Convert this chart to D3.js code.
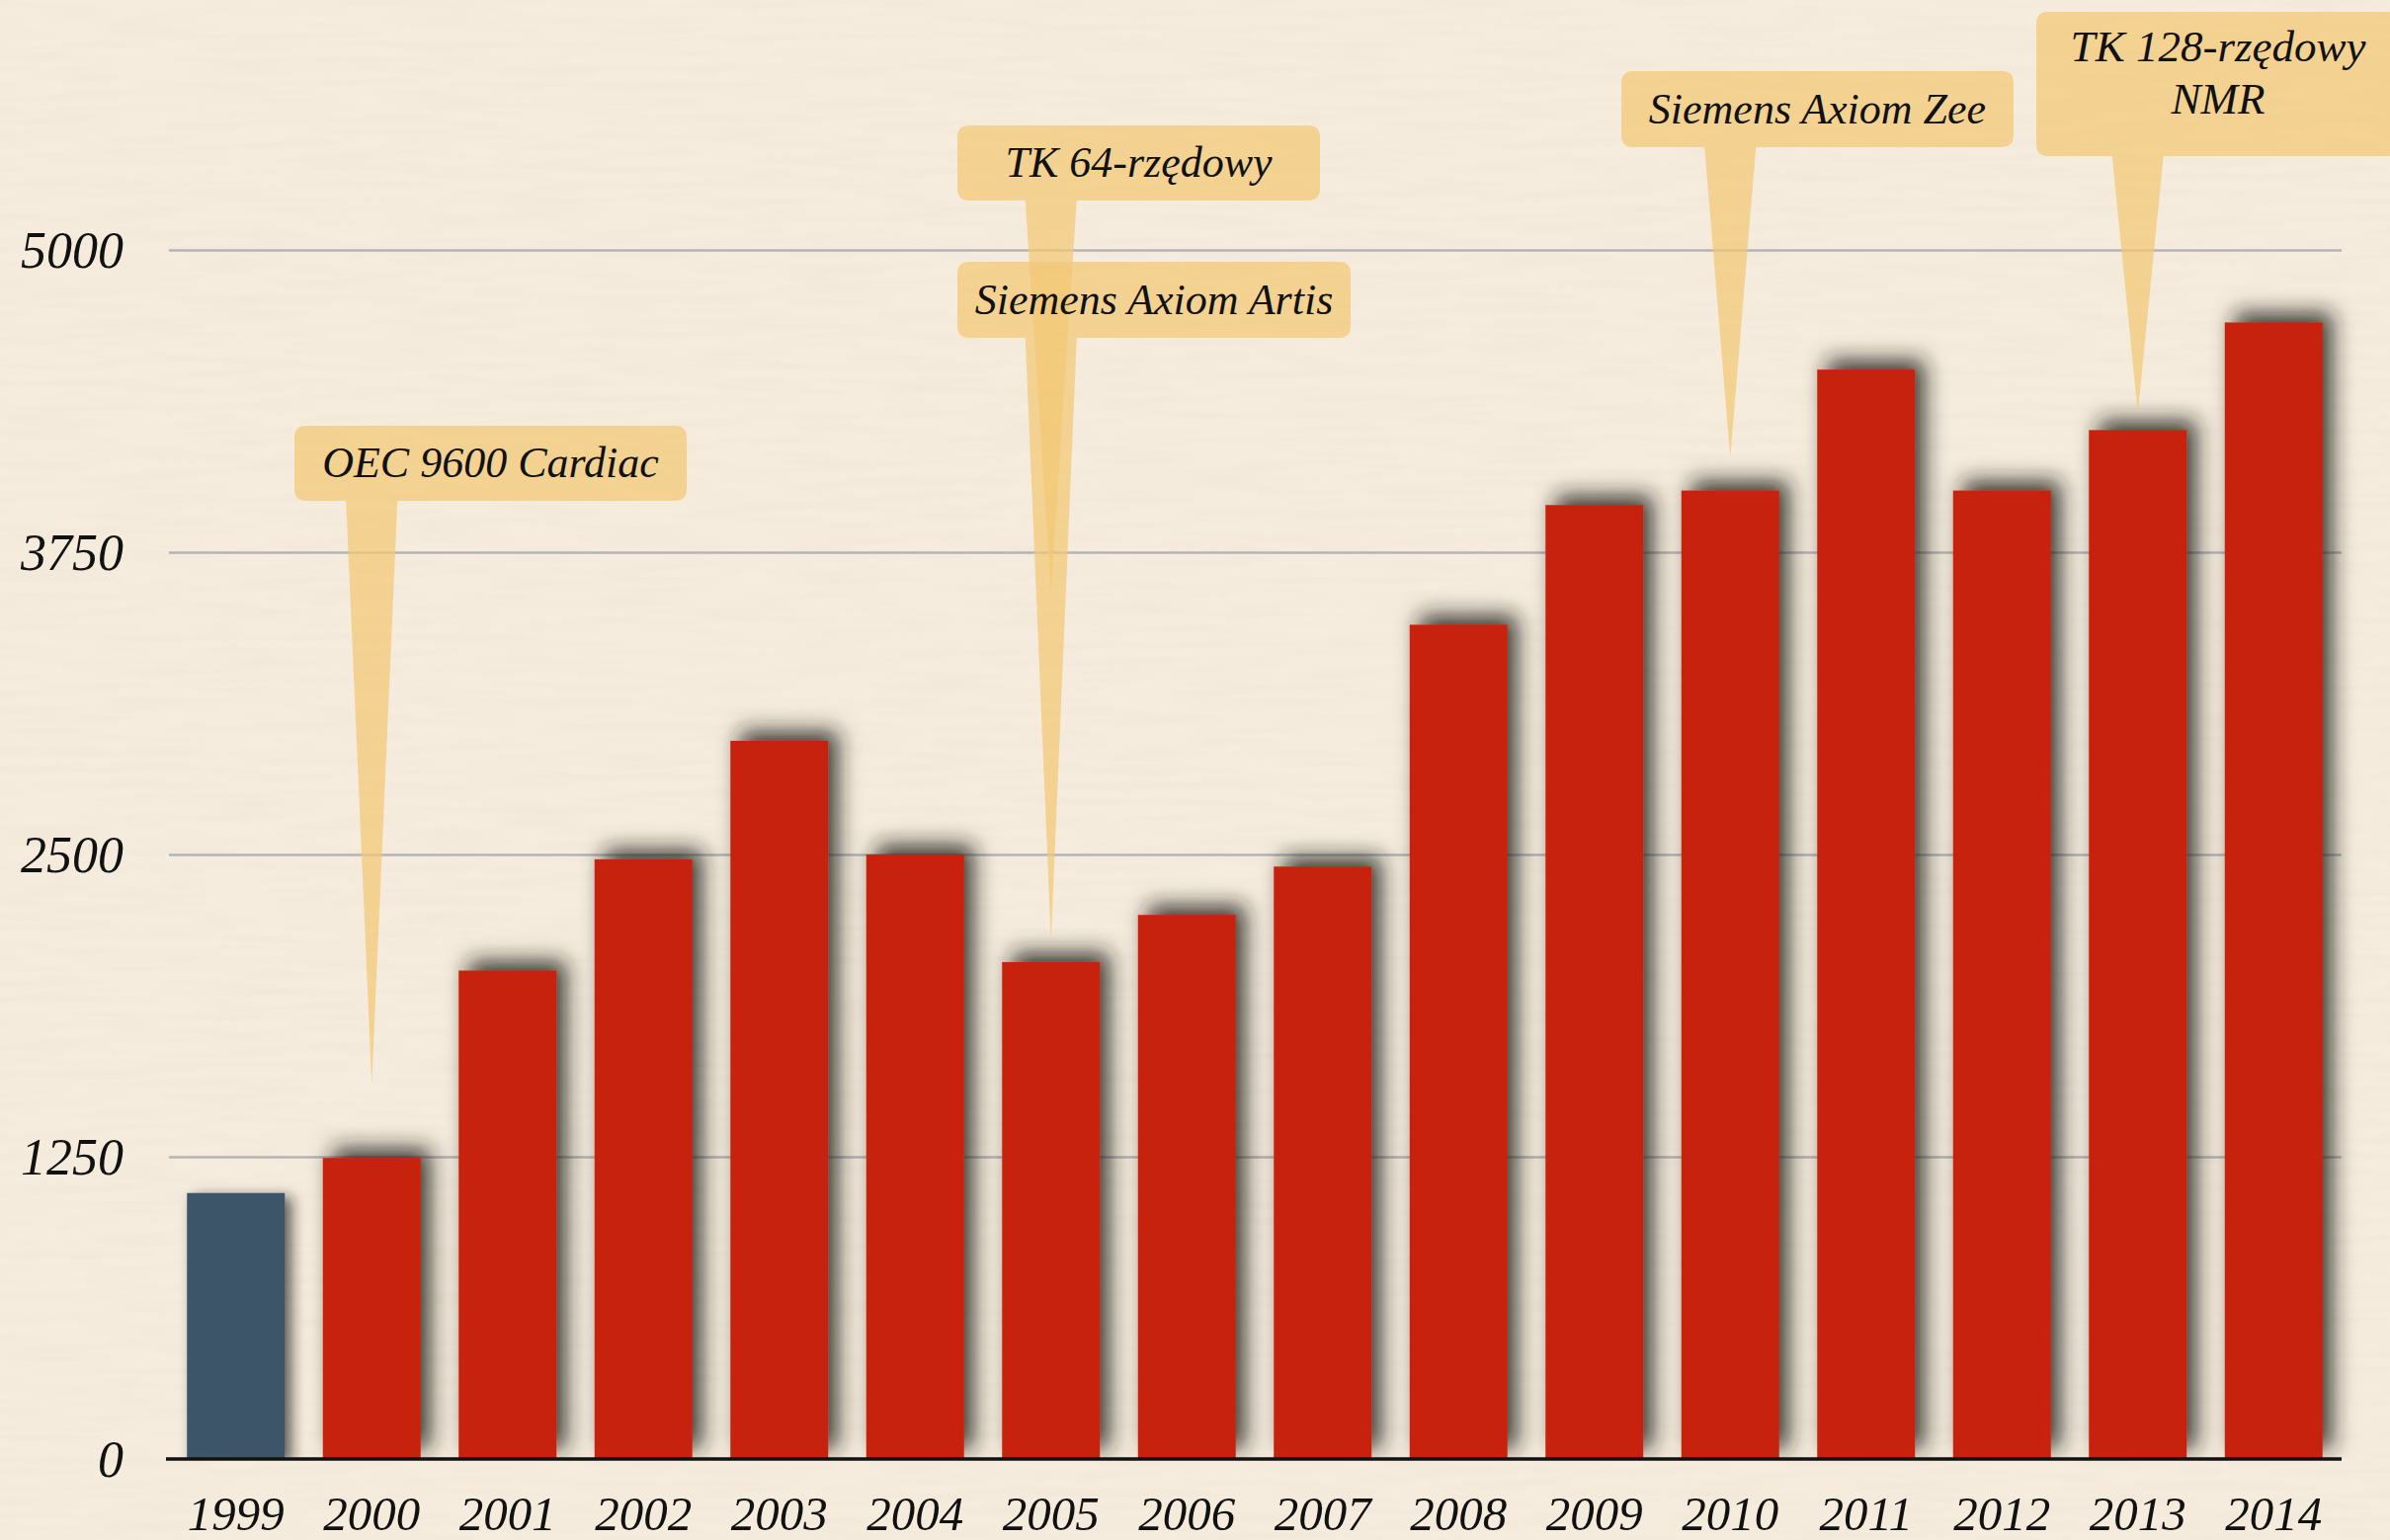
<!DOCTYPE html>
<html>
<head>
<meta charset="utf-8">
<script src="https://cdn.jsdelivr.net/npm/d3@7"></script>
<style>
  body { margin: 0; background: #f5ecdd; }
  svg { display: block; }
  text { font-family: "Liberation Serif", "DejaVu Serif", serif; font-style: italic; fill: #111; }
</style>
</head>
<body>
<div id="chart"></div>
<script>
    // values
    var years = ["1999", "2000", "2001", "2002", "2003", "2004", "2005", "2006",
                 "2007", "2008", "2009", "2010", "2011", "2012", "2013", "2014"]
    var values = [1100, 1245, 2020, 2480, 2970, 2500, 2055, 2250,
                  2450, 3450, 3945, 4005, 4505, 4005, 4255, 4700]
    var yTicks = [0, 1250, 2500, 3750, 5000]
    var noteTexts = ["OEC 9600 Cardiac", "TK 64-rzędowy", "Siemens Axiom Artis", "Siemens Axiom Zee", "TK 128-rzędowy|NMR"]
    var noteYears = ["2000", "2005", "2005", "2010", "2013"]

    // where the callout boxes sit (pixels)
    var noteBoxes = [
        {x: 298, y: 431, w: 397, h: 76, tip: 1098},
        {x: 969, y: 127, w: 367, h: 76, tip: 600},
        {x: 969, y: 265, w: 398, h: 77, tip: 952},
        {x: 1641, y: 72, w: 397, h: 77, tip: 463},
        {x: 2061, y: 12, w: 390, h: 146, tip: 418}
    ]

    var width = 2419, height = 1559

    var svg = d3.select("#chart").append("svg")
        .attr("width", width)
        .attr("height", height)

    var defs = svg.append("defs")

    // faint paper texture
    var paper = defs.append("filter").attr("id", "paper")
        .attr("x", 0).attr("y", 0).attr("width", "100%").attr("height", "100%")
    paper.append("feTurbulence").attr("type", "fractalNoise")
        .attr("baseFrequency", "0.01 0.12").attr("numOctaves", 2).attr("seed", 7)
    paper.append("feColorMatrix").attr("type", "matrix")
        .attr("values", "0 0 0 0 0.55  0 0 0 0 0.48  0 0 0 0 0.38  0 0 0 -1 0.6")
    paper.append("feComposite").attr("in2", "SourceGraphic").attr("operator", "in")

    // bar shadow, thrown up and right
    var shadow = defs.append("filter").attr("id", "shadow")
        .attr("x", "-40%").attr("y", "-20%").attr("width", "180%").attr("height", "140%")
    shadow.append("feGaussianBlur").attr("in", "SourceAlpha").attr("stdDeviation", 11)
    shadow.append("feOffset").attr("dx", 10).attr("dy", -10).attr("result", "off")
    shadow.append("feFlood").attr("flood-color", "#1e1e18").attr("flood-opacity", 0.85)
    shadow.append("feComposite").attr("in2", "off").attr("operator", "in")
    var merge = shadow.append("feMerge")
    merge.append("feMergeNode")
    merge.append("feMergeNode").attr("in", "SourceGraphic")

    var shadow2 = defs.append("filter").attr("id", "shadow2")
        .attr("x", "-40%").attr("y", "-20%").attr("width", "180%").attr("height", "140%")
    shadow2.append("feGaussianBlur").attr("in", "SourceAlpha").attr("stdDeviation", 7)
    shadow2.append("feOffset").attr("dx", 7).attr("dy", 4).attr("result", "off")
    shadow2.append("feFlood").attr("flood-color", "#1e1e18").attr("flood-opacity", 0.7)
    shadow2.append("feComposite").attr("in2", "off").attr("operator", "in")
    var merge2 = shadow2.append("feMerge")
    merge2.append("feMergeNode")
    merge2.append("feMergeNode").attr("in", "SourceGraphic")

    var x = d3.scaleBand()
        .domain(years)
        .range([170, 2370])
        .paddingInner(0.28)
        .paddingOuter(0.14)

    var y = d3.scaleLinear()
        .domain([0, 5000])
        .range([1477, 253])

    svg.append("rect").attr("width", width).attr("height", height).attr("fill", "#f5ecdd")
    svg.append("rect").attr("width", width).attr("height", height).attr("fill", "#f5ecdd")
        .attr("filter", "url(#paper)").attr("opacity", 0.14)

    // grid
    var grid = svg.append("g")
        .attr("transform", "translate(171,0)")
        .call(d3.axisLeft(y).tickValues(yTicks.slice(1)).tickSize(-(2370 - 171)).tickFormat(""))
    grid.select(".domain").remove()
    grid.selectAll("line").attr("stroke", "#b4b4b4").attr("stroke-width", 2.5)

    // y labels
    svg.append("g").selectAll("text")
        .data(yTicks)
        .join("text")
            .attr("x", 125)
            .attr("y", d => y(d) + 18)
            .attr("text-anchor", "end")
            .attr("font-size", 52)
            .text(d => d)

    // bars
    defs.append("clipPath").attr("id", "plot")
        .append("rect").attr("x", 0).attr("y", 0).attr("width", width).attr("height", 1477)

    svg.append("g").attr("clip-path", "url(#plot)")
        .selectAll("rect")
        .data(values)
        .join("rect")
            .attr("x", (d, i) => x(years[i]))
            .attr("y", d => y(d))
            .attr("width", x.bandwidth())
            .attr("height", d => y(0) - y(d))
            .attr("fill", (d, i) => i == 0 ? "#3e5469" : "#c72408")
            .attr("filter", (d, i) => i == 0 ? "url(#shadow2)" : "url(#shadow)")

    // base line
    svg.append("line")
        .attr("x1", 168).attr("x2", 2370)
        .attr("y1", y(0)).attr("y2", y(0))
        .attr("stroke", "#111").attr("stroke-width", 3.5)

    // year labels
    var xAxis = svg.append("g")
        .attr("transform", "translate(0,1549)")
        .call(d3.axisBottom(x).tickSize(0).tickPadding(0))
    xAxis.select(".domain").remove()
    xAxis.selectAll("text")
        .attr("font-size", 49)
        .attr("dy", 0)
        .attr("y", 0)
        .attr("fill", "#111")
        .style("font-family", "Liberation Serif, serif")
        .style("font-style", "italic")

    // callouts
    var notes = svg.append("g")
    noteTexts.forEach(function(t, i) {
        var b = noteBoxes[i]
        var cx = x(noteYears[i]) + x.bandwidth() / 2
        var r = 12
        var p = d3.path()
        p.moveTo(b.x + r, b.y)
        p.lineTo(b.x + b.w - r, b.y)
        p.quadraticCurveTo(b.x + b.w, b.y, b.x + b.w, b.y + r)
        p.lineTo(b.x + b.w, b.y + b.h - r)
        p.quadraticCurveTo(b.x + b.w, b.y + b.h, b.x + b.w - r, b.y + b.h)
        p.lineTo(cx + 26, b.y + b.h)
        p.lineTo(cx, b.tip)
        p.lineTo(cx - 26, b.y + b.h)
        p.lineTo(b.x + r, b.y + b.h)
        p.quadraticCurveTo(b.x, b.y + b.h, b.x, b.y + b.h - r)
        p.lineTo(b.x, b.y + r)
        p.quadraticCurveTo(b.x, b.y, b.x + r, b.y)
        p.closePath()

        var g = notes.append("g")
        g.append("path")
            .attr("d", p.toString())
            .attr("fill", "#f3c874")
            .attr("opacity", 0.72)

        var lines = t.split("|")
        var mid = b.x + b.w / 2
        if (lines.length == 1) {
            g.append("text")
                .attr("x", mid)
                .attr("y", b.y + b.h / 2 + 14)
                .attr("text-anchor", "middle")
                .attr("font-size", 44)
                .text(t)
        } else {
            lines.forEach(function(l, j) {
                g.append("text")
                    .attr("x", 2245)
                    .attr("y", b.y + 50 + j * 53)
                    .attr("text-anchor", "middle")
                    .attr("font-size", 45)
                    .text(l)
            })
        }
    })
</script>
</body>
</html>
